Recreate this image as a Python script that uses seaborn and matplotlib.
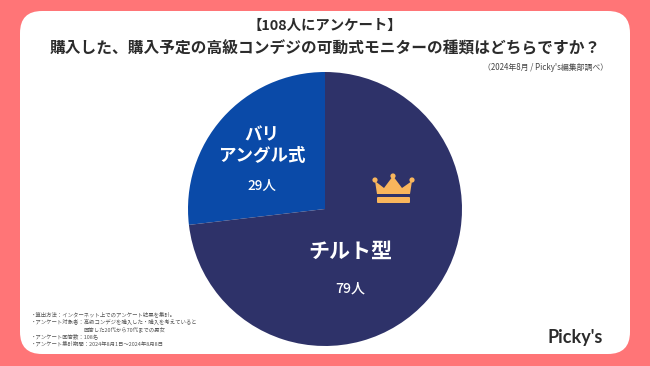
import matplotlib
matplotlib.use("Agg")
import matplotlib.pyplot as plt
from matplotlib.patches import FancyBboxPatch, Polygon, Circle
import seaborn as sns

categories = ["バリ\nアングル式", "チルト型"]
values = [29, 79]
value_labels = ["29人", "79人"]
colors = ["#0A4AA8", "#2E3269"]
title_lines = ["【108人にアンケート】", "購入した、購入予定の高級コンデジの可動式モニターの種類はどちらですか？"]
source = "（2024年8月 / Picky's編集部調べ）"
notes = ["・算出方法：インターネット上でのアンケート結果を集計。",
         "・アンケート対象者：高級コンデジを購入した・購入を考えていると",
         "回答した20代から70代までの男女",
         "・アンケート回答数：108名",
         "・アンケート集計期間：2024年8月1日〜2024年8月8日"]

sns.set_theme(style="white")
plt.rcParams['font.family'] = ['Noto Sans CJK JP', 'DejaVu Sans']
W, H = 650, 366
fig = plt.figure(figsize=(W/100, H/100), dpi=100, facecolor="#FF7577")

bg = fig.add_axes([0, 0, 1, 1])
bg.set_xlim(0, W); bg.set_ylim(H, 0); bg.axis("off")
bg.add_patch(FancyBboxPatch((42, 33), 566, 299, boxstyle="round,pad=22,rounding_size=22", fc="white", ec="none"))

ax = fig.add_axes([(325-137)/W, 1-(209+137)/H, 274/W, 274/H])
ax.pie(values, colors=sns.color_palette(colors), startangle=90, counterclock=True, radius=1,
       wedgeprops=dict(linewidth=0))
ax.set_xlim(-1, 1); ax.set_ylim(-1, 1); ax.set_aspect("equal")

top = fig.add_axes([0, 0, 1, 1], facecolor="none")
top.set_xlim(0, W); top.set_ylim(H, 0); top.axis("off")
dark = "#2b2b2b"
px = 0.72
top.text(325, 26, title_lines[0], ha="center", va="center", fontsize=14.4*px, fontweight="bold", color=dark)
top.text(325, 48, title_lines[1], ha="center", va="center", fontsize=15.7*px, fontweight="bold", color=dark)
top.text(608, 67, source, ha="right", va="center", fontsize=7.9*px, color="#444444")

top.text(262, 135, categories[0].split("\n")[0], ha="center", va="center", fontsize=17.5*px, fontweight="bold", color="white")
top.text(262, 156, categories[0].split("\n")[1], ha="center", va="center", fontsize=17.5*px, fontweight="bold", color="white")
top.text(262, 186, value_labels[0], ha="center", va="center", fontsize=13.5*px, fontweight="medium", color="white")
top.text(350, 251, categories[1], ha="center", va="center", fontsize=21*px, fontweight="bold", color="white")
top.text(350, 289, value_labels[1], ha="center", va="center", fontsize=14*px, fontweight="medium", color="white")

# crown decoration
gold = "#F9B65C"
top.add_patch(Polygon([(377, 194), (375, 181), (384, 188), (393, 176), (402, 188), (412, 181), (410, 194)],
                      closed=True, fc=gold, ec="none"))
for cx, cy in [(375, 180), (393, 176), (412, 180)]:
    top.add_patch(Circle((cx, cy), 2.6, fc=gold, ec="none"))
top.add_patch(FancyBboxPatch((377, 197), 33, 6, boxstyle="round,pad=0,rounding_size=1", fc=gold, ec="none"))

ys = [314, 321.5, 329, 336.5, 344]
xs = [31, 31, 84, 31, 31]
for x, y, t in zip(xs, ys, notes):
    top.text(x, y, t, ha="left", va="center", fontsize=5.4*px, color="#555555")

top.text(575, 338, "Picky's", ha="center", va="center", fontsize=13, fontweight="bold", family="Lato", color="#2b2b2b")

fig.savefig("out.png", dpi=100, facecolor=fig.get_facecolor())
